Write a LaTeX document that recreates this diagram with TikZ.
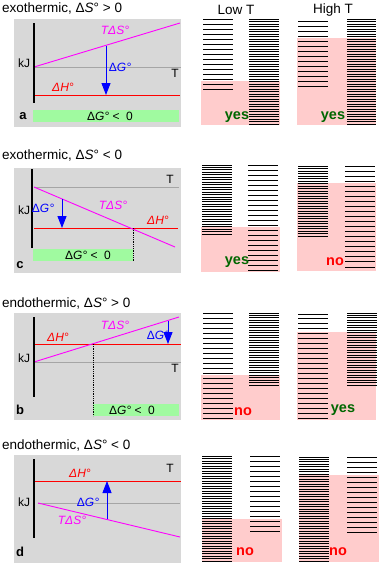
\documentclass[tikz,border=0pt]{standalone}
\usepackage{fontspec}
\setmainfont{Liberation Sans}
\usepackage{xcolor}
\usetikzlibrary{arrows.meta}
\definecolor{panelgray}{RGB}{216,216,216}
\definecolor{bargreen}{RGB}{160,250,160}
\definecolor{fillpink}{RGB}{255,204,204}
\definecolor{yesgreen}{RGB}{0,102,0}
\definecolor{tgray}{RGB}{165,165,165}
\definecolor{tsmag}{RGB}{255,0,255}
\definecolor{hred}{RGB}{255,0,0}
\definecolor{gblue}{RGB}{0,0,255}
\newcommand{\drawlevels}[5]{\foreach \k in {0,...,#5}{\draw[lvl] (#1,{#3+\k*(#4-#3)/#5}) -- (#2,{#3+\k*(#4-#3)/#5});}}

\begin{document}
\begin{tikzpicture}[line cap=butt,line join=round,x=1pt,y=-1pt,
    lvl/.style={line width=1pt,black},
    ttl/.style={font=\fontsize{13.5}{15}\selectfont,anchor=west,inner sep=0pt},
    lbl/.style={font=\fontsize{12}{14}\selectfont,inner sep=0pt},
    tag/.style={font=\bfseries\fontsize{13}{15}\selectfont,inner sep=0pt},
    verdict/.style={font=\bfseries\fontsize{14.5}{16}\selectfont,inner sep=0pt},
    hline/.style={line width=1pt,hred},
    sline/.style={line width=0.9pt,tsmag},
    tline/.style={line width=1pt,tgray},
    kaxis/.style={line width=1.3pt,black},
    garrow/.style={line width=1pt,gblue,-{Triangle[length=12pt,width=9pt]}},
    drop/.style={line width=0.8pt,densely dotted}]
\useasboundingbox (0,0) rectangle (381,565);
\fill[white] (0,0) rectangle (381,565);
\node[lbl,font=\fontsize{13.5}{15}\selectfont] (lowt) at (236,10) {Low T};
\node[lbl,font=\fontsize{13.5}{15}\selectfont] (hight) at (333,10) {High T};
% a
\node[ttl] (ttla) at (2,8) {exothermic, Δ\textit{S}° > 0};
\fill[panelgray] (14,19) rectangle (181,127);
\draw[tline] (34,67) -- (181,67);
\draw[hline] (34,95) -- (180,95);
\draw[sline] (34,67) -- (180,23);
\draw[kaxis] (34,23) -- (34,103);
\node[lbl] (kja) at (24,63) {kJ};
\node[lbl] (ta) at (175,73) {T};
\node[lbl,hred] (ha) at (63,87) {\textit{ΔH°}};
\node[lbl,tsmag] (sa) at (115,30) {\textit{TΔS°}};
\node[lbl,gblue] (ga) at (120,67) {Δ\textit{G°}};
\coordinate (ga1) at (106,45.5);
\coordinate (ga2) at (106,95);
\draw[garrow] (ga1) -- (ga2);
\fill[bargreen] (33,110) rectangle (179,122);
\node[lbl] (bara) at (110,116) {Δ\textit{G°} <\ \ 0};
\node[tag] (laba) at (23,116) {a};
\fill[fillpink] (201,81) rectangle (280,125);
\drawlevels{203}{233}{19}{89}{14}
\drawlevels{249}{279}{19}{124}{42}
\node[verdict,yesgreen] (va1) at (237,117) {yes};
\fill[fillpink] (297,38) rectangle (376,125);
\drawlevels{298}{328}{21}{86}{13}
\drawlevels{347}{376}{19}{124}{42}
\node[verdict,yesgreen] (va2) at (333,117) {yes};
% c
\node[ttl] (ttlc) at (2,155) {exothermic, Δ\textit{S}° < 0};
\fill[panelgray] (14,168) rectangle (181,273);
\draw[tline] (34,187) -- (179,187);
\draw[hline] (34,228) -- (178,228);
\draw[sline] (34,187) -- (175,247);
\draw[kaxis] (32,169) -- (32,248);
\node[lbl] (kjc) at (24,210) {kJ};
\node[lbl] (tc) at (170,179) {T};
\node[lbl,hred] (hc) at (158,220) {\textit{ΔH°}};
\node[lbl,tsmag] (sc) at (113,205) {\textit{TΔS°}};
\node[lbl,gblue] (gc) at (43,208) {Δ\textit{G°}};
\coordinate (gc1) at (62,199);
\coordinate (gc2) at (62,228);
\draw[garrow] (gc1) -- (gc2);
\fill[bargreen] (33,249) rectangle (133,261);
\coordinate (xc1) at (133,228);
\coordinate (xc2) at (133,261);
\draw[drop] (xc1) -- (xc2);
\node[lbl] (barc) at (88,255) {Δ\textit{G°} <\ \ 0};
\node[tag] (labc) at (20,265) {c};
\fill[fillpink] (201,227) rectangle (280,272);
\drawlevels{202}{232}{165}{234}{28}
\drawlevels{248}{278}{165}{270}{21}
\node[verdict,yesgreen] (vc1) at (237,262) {yes};
\fill[fillpink] (297,183) rectangle (376,271);
\drawlevels{298}{328}{166}{236}{28}
\drawlevels{345}{375}{166}{267}{20}
\node[verdict,hred] (vc2) at (335,262) {no};
% b
\node[ttl] (ttlb) at (2,303) {endothermic, Δ\textit{S}° > 0};
\fill[panelgray] (14,313) rectangle (181,420);
\draw[tline] (34,362) -- (181,362);
\draw[hline] (34,344) -- (181,344);
\draw[sline] (34,362) -- (179,317);
\draw[kaxis] (34,317) -- (34,397);
\node[lbl] (kjb) at (24,358) {kJ};
\node[lbl] (tb) at (175,368) {T};
\node[lbl,hred] (hb) at (58,337) {\textit{ΔH°}};
\node[lbl,tsmag] (sb) at (115,325) {\textit{TΔS°}};
\node[lbl,gblue] (gb) at (158,335) {Δ\textit{G°}};
\coordinate (gb1) at (168,321);
\coordinate (gb2) at (168,344);
\draw[garrow] (gb1) -- (gb2);
\fill[bargreen] (93,404) rectangle (179,416);
\coordinate (xb1) at (93,344);
\coordinate (xb2) at (93,416);
\draw[drop] (xb1) -- (xb2);
\node[lbl] (barb) at (132,410) {Δ\textit{G°} <\ \ 0};
\node[tag] (labb) at (20,410) {b};
\fill[fillpink] (201,375) rectangle (280,420);
\drawlevels{203}{233}{313}{418}{21}
\drawlevels{249}{279}{313}{385}{29}
\node[verdict,hred] (vb1) at (243,412) {no};
\fill[fillpink] (297,332) rectangle (376,420);
\drawlevels{298}{328}{314}{418}{21}
\drawlevels{347}{377}{313}{385}{29}
\node[verdict,yesgreen] (vb2) at (343,410) {yes};
% d
\node[ttl] (ttld) at (2,445) {endothermic, Δ\textit{S}° < 0};
\fill[panelgray] (14,455) rectangle (181,563);
\draw[tline] (38,503) -- (180,503);
\draw[hline] (34,481) -- (181,481);
\draw[sline] (38,503) -- (180,537);
\draw[kaxis] (34,459) -- (34,538);
\node[lbl] (kjd) at (24,502) {kJ};
\node[lbl] (td) at (170,468) {T};
\node[lbl,hred] (hd) at (80,473) {\textit{ΔH°}};
\node[lbl,tsmag] (sd) at (72,520) {\textit{TΔS°}};
\node[lbl,gblue] (gd) at (88,502) {Δ\textit{G°}};
\coordinate (gd1) at (107,519);
\coordinate (gd2) at (107,481);
\draw[garrow] (gd1) -- (gd2);
\node[tag] (labd) at (20,552) {d};
\fill[fillpink] (202,519) rectangle (282,562);
\drawlevels{202}{232}{456}{561}{42}
\drawlevels{250}{280}{456}{531}{15}
\node[verdict,hred] (vd1) at (245,552) {no};
\fill[fillpink] (299,475) rectangle (379,562);
\drawlevels{299}{329}{457}{561}{42}
\drawlevels{347}{377}{457}{532}{15}
\node[verdict,hred] (vd2) at (338,552) {no};
\end{tikzpicture}
\end{document}
